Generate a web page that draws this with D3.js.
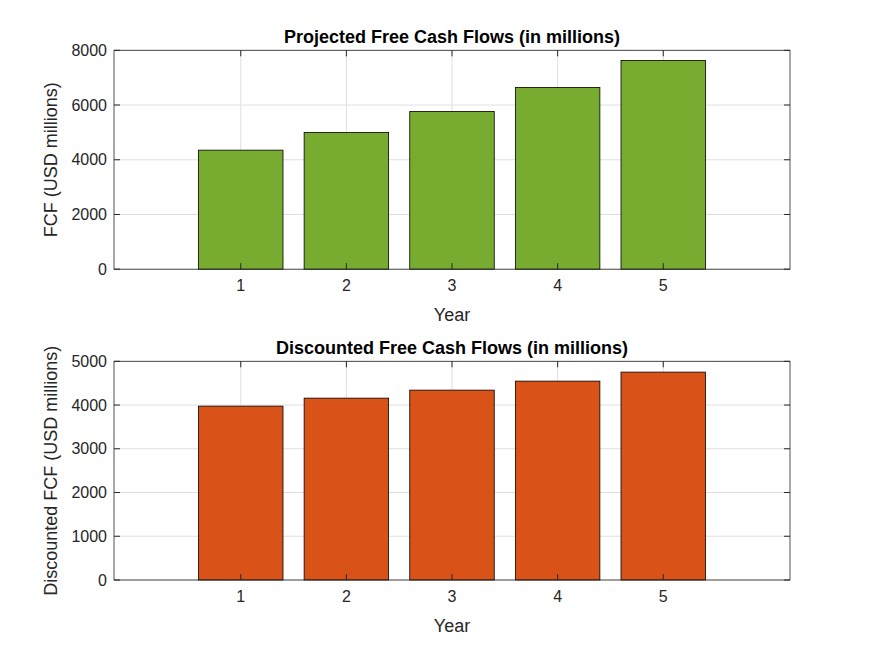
<!DOCTYPE html>
<html><head><meta charset="utf-8">
<script src="https://cdn.jsdelivr.net/npm/d3@7"></script>
<style>body{margin:0;background:#fff}text{font-family:"Liberation Sans",Arial,sans-serif}</style>
</head><body><svg id="c" width="875" height="656"></svg>
<script>
const years = [1,2,3,4,5];
const fcf = [4351,4998,5766,6644,7631];
const dfcf = [3975,4158,4341,4547,4753];
const fcfTicks = [0,2000,4000,6000,8000];
const dfcfTicks = [0,1000,2000,3000,4000,5000];

const svg = d3.select("#c");
svg.append("rect").attr("width",875).attr("height",656).attr("fill","#fff");
const L=114,R=790;
const x = d3.scaleLinear().domain([-0.2,6.2]).range([L,R]);

function panel(top,bottom,vals,ticks,ymax,color,title,ylab){
  const y=d3.scaleLinear().domain([0,ymax]).range([bottom,top]);
  const g=svg.append("g");
  g.append("rect").attr("x",L).attr("y",top).attr("width",R-L).attr("height",bottom-top).attr("fill","#fff");
  // grid
  g.selectAll(".gx").data(years).enter().append("line").attr("x1",d=>x(d)).attr("x2",d=>x(d)).attr("y1",top).attr("y2",bottom).attr("stroke","#dfdfdf");
  g.selectAll(".gy").data(ticks).enter().append("line").attr("x1",L).attr("x2",R).attr("y1",d=>y(d)).attr("y2",d=>y(d)).attr("stroke","#dfdfdf");
  // bars
  const bw=x(0.8)-x(0);
  g.selectAll(".b").data(vals).enter().append("rect")
    .attr("x",(d,i)=>x(years[i])-bw/2).attr("y",d=>y(d)).attr("width",bw).attr("height",d=>y(0)-y(d))
    .attr("fill",color).attr("stroke","#000").attr("stroke-width",0.8);
  // box
  g.append("rect").attr("x",L).attr("y",top).attr("width",R-L).attr("height",bottom-top).attr("fill","none").attr("stroke","#262626").attr("stroke-width",0.8);
  // ticks
  g.selectAll(".tx").data(years).enter().append("line").attr("x1",d=>x(d)).attr("x2",d=>x(d)).attr("y1",bottom).attr("y2",bottom-6).attr("stroke","#262626");
  g.selectAll(".tx2").data(years).enter().append("line").attr("x1",d=>x(d)).attr("x2",d=>x(d)).attr("y1",top).attr("y2",top+6).attr("stroke","#262626");
  g.selectAll(".ty").data(ticks).enter().append("line").attr("x1",L).attr("x2",L+6).attr("y1",d=>y(d)).attr("y2",d=>y(d)).attr("stroke","#262626");
  g.selectAll(".ty2").data(ticks).enter().append("line").attr("x1",R).attr("x2",R-6).attr("y1",d=>y(d)).attr("y2",d=>y(d)).attr("stroke","#262626");
  g.selectAll(".lx").data(years).enter().append("text").attr("x",d=>x(d)).attr("y",bottom+22).attr("text-anchor","middle").attr("font-size",16).attr("fill","#262626").text(d=>d);
  g.selectAll(".ly").data(ticks).enter().append("text").attr("x",L-7).attr("y",d=>y(d)+5.5).attr("text-anchor","end").attr("font-size",16).attr("fill","#262626").text(d=>d);
  g.append("text").attr("x",(L+R)/2).attr("y",bottom+52).attr("text-anchor","middle").attr("font-size",18).attr("fill","#262626").text("Year");
  g.append("text").attr("x",(L+R)/2).attr("y",top-7).attr("text-anchor","middle").attr("font-size",18).attr("font-weight","bold").attr("fill","#000").text(title);
  g.append("text").attr("transform",`translate(57,${(top+bottom)/2}) rotate(-90)`).attr("text-anchor","middle").attr("font-size",18).attr("fill","#262626").text(ylab);
}
panel(50.3,269.2,fcf,fcfTicks,8000,"#77ac30","Projected Free Cash Flows (in millions)","FCF (USD millions)");
panel(361.3,580,dfcf,dfcfTicks,5000,"#d95319","Discounted Free Cash Flows (in millions)","Discounted FCF (USD millions)");
</script></body></html>
